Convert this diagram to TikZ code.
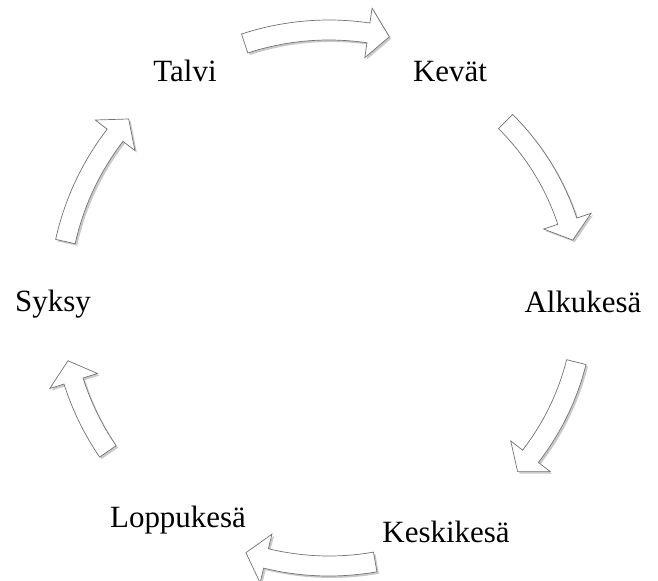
\documentclass[tikz,border=0pt]{standalone}
\usepackage{fontspec}
\setmainfont{Liberation Serif}
\usetikzlibrary{shadows}

\begin{document}
\begin{tikzpicture}[x=0.025cm, y=0.025cm,
  season/.style={font=\fontsize{22}{26}\selectfont, anchor=base, inner sep=0pt},
  bendarrow/.style={draw=black!55, line width=0.5pt, fill=white, line join=miter,
    drop shadow={shadow xshift=1.4pt, shadow yshift=-1.4pt, opacity=0.3, fill=black!70}}]

\useasboundingbox (0,0) rectangle (658,580);

% Seasons
\node[season] (talvi) at (185,498) {Talvi};
\node[season] (kevat) at (450,498) {Kevät};
\node[season] (alku) at (583,267) {Alkukesä};
\node[season] (keski) at (446,38) {Keskikesä};
\node[season] (loppu) at (178,53) {Loppukesä};
\node[season] (syksy) at (53,268) {Syksy};

% Curved block arrows round the middle
\coordinate (mid) at (329,280);
\begin{scope}[shift={(mid)}]
\foreach \a/\b/\r in {108.2/77.1/270, 45.3/13.8/251, -14.1/-42.3/255,
                      -80/-108.2/266, -145.6/-166.9/268, 167.5/137.9/270}
{
  \pgfmathsetmacro{\h}{\b+4.5}
  \draw[bendarrow] (\a:{\r+10}) arc[start angle=\a, end angle=\h, radius=\r+10]
    -- (\h:{\r+25}) -- (\b:\r) -- (\h:{\r-25}) -- (\h:{\r-10})
    arc[start angle=\h, end angle=\a, radius=\r-10] -- cycle;
}
\end{scope}

\end{tikzpicture}
\end{document}
